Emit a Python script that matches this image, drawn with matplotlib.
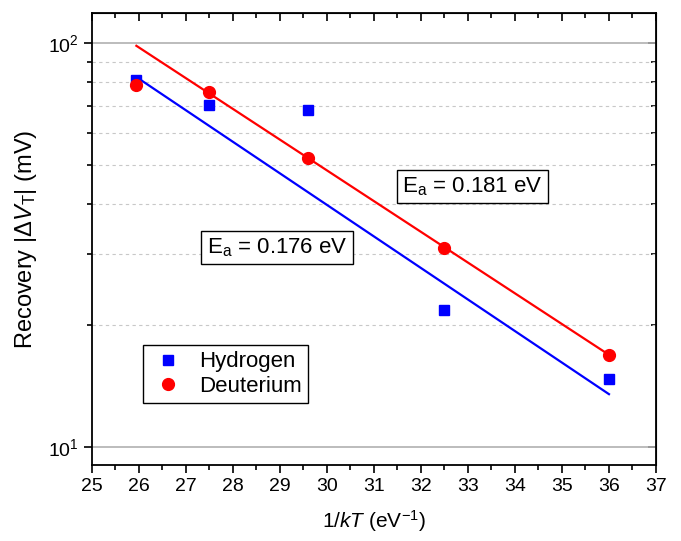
import matplotlib.pyplot as plt
from matplotlib.ticker import MultipleLocator, LogLocator, NullFormatter
import numpy as np

plt.rcParams['font.family'] = ['Liberation Sans', 'DejaVu Sans']
plt.rcParams['mathtext.fontset'] = 'custom'
plt.rcParams['mathtext.rm'] = 'Liberation Sans'
plt.rcParams['mathtext.it'] = 'Liberation Sans:italic'

# data
inv_kT = [25.95, 27.5, 29.6, 32.5, 36.0]
hydrogen = [81.1, 70.4, 68.4, 21.8, 14.7]
deuterium = [78.8, 75.6, 52.0, 31.1, 16.9]

# Arrhenius fits (value at both ends)
fit_x = [25.95, 36.0]
hydrogen_fit = [82.5, 13.5]
deuterium_fit = [98.6, 16.9]

fig = plt.figure(figsize=(6.81, 5.41), dpi=100)
L, R, T, B = 91.7, 656, 13, 465
ax = fig.add_axes([L/681, 1-B/541, (R-L)/681, (B-T)/541])

ax.plot(fit_x, hydrogen_fit, color='blue', lw=1.6, zorder=2)
ax.plot(fit_x, deuterium_fit, color='red', lw=1.6, zorder=2)
ax.plot(inv_kT, hydrogen, 's', color='blue', ms=7.5, label='Hydrogen', zorder=3)
ax.plot(inv_kT, deuterium, 'o', color='red', ms=8.5, label='Deuterium', zorder=3)

ax.set_yscale('log')
ax.set_xlim(25, 37)
ax.set_ylim(9.01, 118.9)
ax.xaxis.set_major_locator(MultipleLocator(1))
ax.xaxis.set_minor_locator(MultipleLocator(0.5))
ax.yaxis.set_minor_locator(LogLocator(base=10, subs=np.arange(2, 10)))
ax.yaxis.set_minor_formatter(NullFormatter())

ax.grid(True, which='major', axis='y', color='#b0b0b0', lw=1.2)
ax.grid(True, which='minor', axis='y', color='#c8c8c8', lw=0.8, ls=(0, (3, 3)))
ax.set_axisbelow(True)

ax.tick_params(which='both', direction='out', labelsize=14, width=1.2, colors='black')
ax.tick_params(which='major', length=6)
ax.tick_params(which='minor', length=3.5)
for s in ax.spines.values():
    s.set_linewidth(1.3)

# mirrored ticks pointing inward on top and right
top = ax.secondary_xaxis('top')
top.xaxis.set_major_locator(MultipleLocator(1))
top.xaxis.set_minor_locator(MultipleLocator(0.5))
top.tick_params(which='both', direction='in', labeltop=False, width=1.2)
top.tick_params(which='major', length=6)
top.tick_params(which='minor', length=3.5)
right = ax.secondary_yaxis('right')
right.set_yscale('log')
right.yaxis.set_minor_locator(LogLocator(base=10, subs=np.arange(2, 10)))
right.yaxis.set_minor_formatter(NullFormatter())
right.tick_params(which='both', direction='in', labelright=False, width=1.2)
right.tick_params(which='major', length=6)
right.tick_params(which='minor', length=3.5)

ax.set_xlabel(r'1/$\mathit{kT}$ (eV$^{\mathrm{-1}}$)', fontsize=15, labelpad=9)
ax.set_ylabel(r'Recovery |$\mathit{\Delta V}_{\mathrm{T}}$| (mV)', fontsize=17, labelpad=6)

box = dict(boxstyle='square,pad=0.25', fc='white', ec='black', lw=1.0)
ax.text(33.1, 44.2, r'E$_\mathrm{a}$ = 0.181 eV', fontsize=16, ha='center', va='center', bbox=box, zorder=4)
ax.text(28.94, 31.2, r'E$_\mathrm{a}$ = 0.176 eV', fontsize=16, ha='center', va='center', bbox=box, zorder=4)

leg = ax.legend(loc='lower left', bbox_to_anchor=(0.0914, 0.1365), borderaxespad=0, fontsize=16,
                frameon=True, fancybox=False, edgecolor='black', handletextpad=0.6, borderpad=0.3,
                labelspacing=0.15, handlelength=1.6, framealpha=1)
leg.get_frame().set_linewidth(1.0)

fig.savefig('out.png', dpi=100)
